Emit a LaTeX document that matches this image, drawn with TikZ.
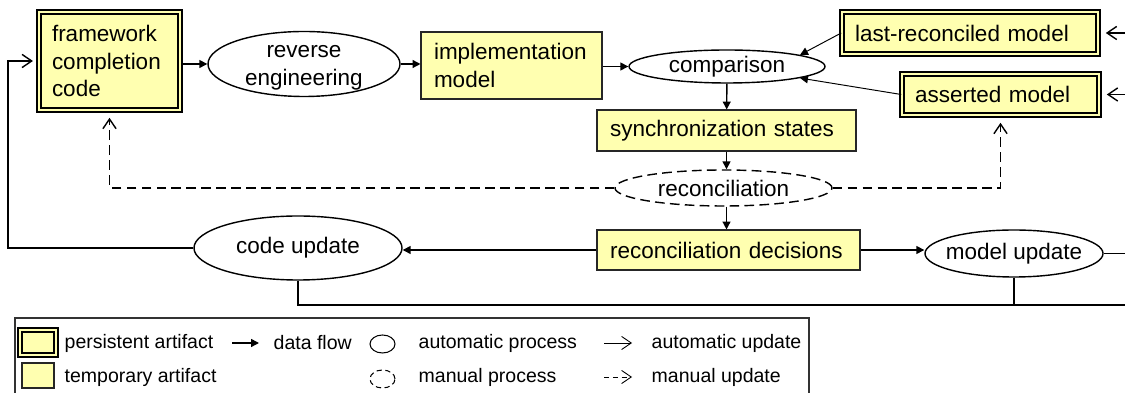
\documentclass[tikz,border=0pt]{standalone}
\usepackage{fontspec}
\setmainfont{Liberation Sans}
\usetikzlibrary{shapes.geometric, arrows.meta}
\definecolor{artyellow}{RGB}{255,255,176}

\begin{document}
\begin{tikzpicture} [scale = 1, line width = 0.8pt,
  font = \fontsize{12.8}{15.5}\selectfont,
  tmpart/.style = {draw = black!85, line width = 0.6pt, fill = artyellow, inner xsep = 0.26cm, align = left},
  persart/.style = {draw = black, line width = 0.9pt, double = artyellow, double distance = 1.6pt, fill = artyellow, inner xsep = 0.26cm, align = left},
  proc/.style = {draw, ellipse, line width = 0.8pt, inner sep = 0pt, align = center},
  manproc/.style = {proc, dash pattern = on 5.5pt off 3pt},
  flow/.style = {-{Triangle[length = 4.5pt, width = 4.5pt]}},
  upd/.style = {-{Straight Barb[length = 5.5pt, width = 7.5pt]}},
  man/.style = {upd, dash pattern = on 5.5pt off 3pt},
  legtext/.style = {right, inner sep = 0pt, font = \fontsize{11.1}{13}\selectfont}]
\useasboundingbox (0, 0) rectangle (22.5, 7.86);
\clip (0, 0) rectangle (22.5, 7.86);
\node[persart, text width = 2.30cm, minimum height = 1.96cm] (fcc) at (2.19, 6.64) {framework\\completion\\code};
\node[proc, inner ysep = -2.5pt, minimum width = 3.84cm, minimum height = 1.30cm] (re) at (6.08, 6.58) {\rule{0pt}{11.3pt}reverse\\engineering};
\node[tmpart, text width = 3.10cm, minimum height = 1.34cm] (impl) at (10.23, 6.55) {implementation\\model};
\node[proc, minimum width = 3.92cm, minimum height = 0.66cm] (cmp) at (14.54, 6.53) {comparison};
\node[persart, text width = 4.60cm, minimum height = 0.84cm] (lrm) at (19.40, 7.20) {last-reconciled model};
\node[persart, text width = 3.42cm, minimum height = 0.82cm] (am) at (20.01, 5.97) {asserted model};
\node[tmpart, text width = 4.66cm, minimum height = 0.82cm] (sync) at (14.53, 5.25) {synchronization states};
\node[manproc, minimum width = 4.34cm, minimum height = 0.72cm] (rec) at (14.47, 4.10) {reconciliation};
\node[tmpart, text width = 4.74cm, minimum height = 0.80cm] (dec) at (14.57, 2.86) {reconciliation decisions};
\node[proc, minimum width = 4.16cm, minimum height = 1.28cm] (cu) at (5.96, 2.90) {code update};
\node[proc, inner xsep = -0.15cm, minimum width = 3.56cm, minimum height = 0.94cm] (mu) at (20.28, 2.79) {model update};
\coordinate (lcorner) at (0.16, 6.64);
\coordinate (bright) at (22.7, 1.76);
\draw[flow] (fcc.east |- re.west) -- (re.west);
\draw[flow] (re.east) -- (re.east -| impl.west);
\draw[flow] (impl.east |- cmp.west) -- (cmp.west);
\draw[flow, line width = 0.55pt] (lrm.west) -- (cmp.9);
\draw[flow, line width = 0.55pt] (am.west) -- (cmp.351);
\draw[flow] (cmp) -- (sync);
\draw[flow] (sync) -- (sync |- rec.north);
\draw[flow] (rec.south -| sync) -- (dec.north -| sync);
\draw[flow] (dec.west) -- (dec.west -| cu.east);
\draw[flow] (dec.east) -- (dec.east -| mu.west);
\draw[man, shorten >= 4pt] (rec.west) -| (fcc.south);
\draw[man, shorten >= 4pt] (rec.east) -| (am.south);
\draw[upd, shorten >= 3pt] (cu.west) -| (lcorner) -- (fcc.west);
\draw (cu.south) |- (bright);
\draw (mu.south) -- (mu.south |- bright);
\draw (mu.east) -- (mu.east -| bright);
\draw[upd, shorten >= 4pt] (lrm.east -| bright) -- (lrm.east);
\draw[upd, shorten >= 4pt] (am.east -| bright) -- (am.east);
% legend
\draw[draw = black!80, line width = 0.6pt] (0.30, 1.50) rectangle (16.18, -0.5);
\node[persart, inner sep = 0pt, minimum width = 0.72cm, minimum height = 0.50cm] (kpers) at (0.76, 1.01) {};
\node[tmpart, inner sep = 0pt, minimum width = 0.64cm, minimum height = 0.50cm] (ktemp) at (0.76, 0.35) {};
\node[legtext] (lpers) at (1.28, 1.00) {persistent artifact};
\node[legtext] (ltemp) at (1.28, 0.32) {temporary artifact};
\coordinate (kflowa) at (4.64, 1.00);
\coordinate (kflowb) at (5.18, 1.00);
\draw[flow] (kflowa) -- (kflowb);
\node[legtext] (lflow) at (5.46, 1.00) {data flow};
\node[proc, line width = 0.6pt, minimum width = 0.50cm, minimum height = 0.36cm] (kauto) at (7.65, 0.98) {};
\node[manproc, line width = 0.6pt, dash pattern = on 3pt off 2pt, minimum width = 0.50cm, minimum height = 0.36cm] (kman) at (7.65, 0.28) {};
\node[legtext] (lauto) at (8.36, 1.00) {automatic process};
\node[legtext] (lman) at (8.36, 0.32) {manual process};
\coordinate (kupda) at (12.08, 1.00);
\coordinate (kupdb) at (12.64, 1.00);
\coordinate (kmana) at (12.08, 0.32);
\coordinate (kmanb) at (12.64, 0.32);
\draw[upd, line width = 0.5pt] (kupda) -- (kupdb);
\draw[man, line width = 0.5pt, dash pattern = on 3pt off 2pt] (kmana) -- (kmanb);
\node[legtext] (lupd) at (13.02, 1.00) {automatic update};
\node[legtext] (lmanu) at (13.02, 0.32) {manual update};
\end{tikzpicture}
\end{document}
